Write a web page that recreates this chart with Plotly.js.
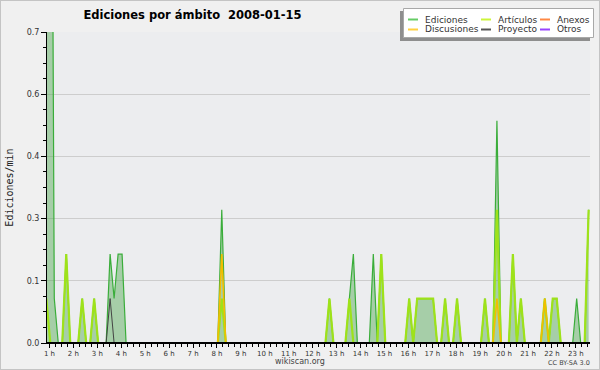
<!DOCTYPE html>
<html>
<head>
<meta charset="utf-8">
<script src="https://cdn.plot.ly/plotly-3.0.1.min.js"></script>
<style>
  html, body { margin: 0; padding: 0; background: #f0f0f0; }
  #wrap { position: relative; width: 600px; height: 370px; }
  #chart { width: 600px; height: 370px; }
  #frame { position: absolute; left: 0; top: 0; width: 600px; height: 370px; box-sizing: border-box; border: 1px solid #c4c4c4; pointer-events: none; }
</style>
</head>
<body>
<div id="wrap"><div id="chart"></div><div id="frame"></div></div>
<script>
// ---- data (10-minute samples, first sample at 00:52, x in hours) ----
const startHour = 52 / 60;
const stepHour = 1 / 6;

const seriesNames = ['Ediciones', 'Artículos', 'Anexos', 'Discusiones', 'Proyecto', 'Otros'];

const ediciones = [
  1.2, 2.0, 0.1, 0, 0, 0.2, 0, 0, 0, 0.1,
  0, 0, 0.1, 0, 0, 0, 0.2, 0.1, 0.2, 0.2,
  0, 0, 0, 0, 0, 0, 0, 0, 0, 0,
  0, 0, 0, 0, 0, 0, 0, 0, 0, 0,
  0, 0, 0, 0, 0.3, 0, 0, 0, 0, 0,
  0, 0, 0, 0, 0, 0, 0, 0, 0, 0,
  0, 0, 0, 0, 0, 0, 0, 0, 0, 0,
  0, 0.1, 0, 0, 0, 0, 0.1, 0.2, 0, 0,
  0, 0, 0.2, 0, 0.2, 0, 0, 0, 0, 0,
  0, 0.1, 0, 0.1, 0.1, 0.1, 0.1, 0.1, 0, 0,
  0.1, 0, 0, 0.1, 0, 0, 0, 0, 0, 0,
  0.1, 0, 0, 0.5, 0, 0, 0, 0.2, 0, 0.1,
  0, 0, 0, 0, 0, 0.1, 0, 0.1, 0.1, 0,
  0, 0, 0, 0.1, 0, 0, 0.3
];
const articulos = [
  0.1, 0, 0, 0, 0, 0.2, 0, 0, 0, 0.1,
  0, 0, 0.1, 0, 0, 0, 0, 0, 0, 0,
  0, 0, 0, 0, 0, 0, 0, 0, 0, 0,
  0, 0, 0, 0, 0, 0, 0, 0, 0, 0,
  0, 0, 0, 0, 0.1, 0, 0, 0, 0, 0,
  0, 0, 0, 0, 0, 0, 0, 0, 0, 0,
  0, 0, 0, 0, 0, 0, 0, 0, 0, 0,
  0, 0.1, 0, 0, 0, 0, 0.1, 0, 0, 0,
  0, 0, 0, 0, 0.2, 0, 0, 0, 0, 0,
  0, 0.1, 0, 0.1, 0.1, 0.1, 0.1, 0.1, 0, 0,
  0.1, 0, 0, 0.1, 0, 0, 0, 0, 0, 0,
  0.1, 0, 0, 0.3, 0, 0, 0, 0.2, 0, 0.1,
  0, 0, 0, 0, 0, 0.1, 0, 0.1, 0.1, 0,
  0, 0, 0, 0, 0, 0, 0.3
];
const anexos = [
  0, 0, 0, 0, 0, 0, 0, 0, 0, 0,
  0, 0, 0, 0, 0, 0, 0, 0, 0, 0,
  0, 0, 0, 0, 0, 0, 0, 0, 0, 0,
  0, 0, 0, 0, 0, 0, 0, 0, 0, 0,
  0, 0, 0, 0, 0, 0, 0, 0, 0, 0,
  0, 0, 0, 0, 0, 0, 0, 0, 0, 0,
  0, 0, 0, 0, 0, 0, 0, 0, 0, 0,
  0, 0, 0, 0, 0, 0, 0, 0, 0, 0,
  0, 0, 0, 0, 0, 0, 0, 0, 0, 0,
  0, 0, 0, 0, 0, 0, 0, 0, 0, 0,
  0, 0, 0, 0, 0, 0, 0, 0, 0, 0,
  0, 0, 0, 0, 0, 0, 0, 0, 0, 0,
  0, 0, 0, 0, 0, 0, 0, 0, 0, 0,
  0, 0, 0, 0, 0, 0, 0
];
const discusiones = [
  0, 0, 0, 0, 0, 0, 0, 0, 0, 0,
  0, 0, 0, 0, 0, 0, 0, 0, 0, 0,
  0, 0, 0, 0, 0, 0, 0, 0, 0, 0,
  0, 0, 0, 0, 0, 0, 0, 0, 0, 0,
  0, 0, 0, 0, 0.2, 0, 0, 0, 0, 0,
  0, 0, 0, 0, 0, 0, 0, 0, 0, 0,
  0, 0, 0, 0, 0, 0, 0, 0, 0, 0,
  0, 0, 0, 0, 0, 0, 0, 0, 0, 0,
  0, 0, 0, 0, 0, 0, 0, 0, 0, 0,
  0, 0, 0, 0, 0, 0, 0, 0, 0, 0,
  0, 0, 0, 0, 0, 0, 0, 0, 0, 0,
  0, 0, 0, 0.1, 0, 0, 0, 0, 0, 0,
  0, 0, 0, 0, 0, 0.1, 0, 0, 0, 0,
  0, 0, 0, 0, 0, 0, 0
];
const proyecto = [
  0, 0, 0, 0, 0, 0, 0, 0, 0, 0,
  0, 0, 0, 0, 0, 0, 0.1, 0, 0, 0,
  0, 0, 0, 0, 0, 0, 0, 0, 0, 0,
  0, 0, 0, 0, 0, 0, 0, 0, 0, 0,
  0, 0, 0, 0, 0, 0, 0, 0, 0, 0,
  0, 0, 0, 0, 0, 0, 0, 0, 0, 0,
  0, 0, 0, 0, 0, 0, 0, 0, 0, 0,
  0, 0, 0, 0, 0, 0, 0, 0, 0, 0,
  0, 0, 0, 0, 0, 0, 0, 0, 0, 0,
  0, 0, 0, 0, 0, 0, 0, 0, 0, 0,
  0, 0, 0, 0, 0, 0, 0, 0, 0, 0,
  0, 0, 0, 0, 0, 0, 0, 0, 0, 0,
  0, 0, 0, 0, 0, 0, 0, 0, 0, 0,
  0, 0, 0, 0, 0, 0, 0
];
const otros = [
  0, 0, 0, 0, 0, 0, 0, 0, 0, 0,
  0, 0, 0, 0, 0, 0, 0, 0, 0, 0,
  0, 0, 0, 0, 0, 0, 0, 0, 0, 0,
  0, 0, 0, 0, 0, 0, 0, 0, 0, 0,
  0, 0, 0, 0, 0, 0, 0, 0, 0, 0,
  0, 0, 0, 0, 0, 0, 0, 0, 0, 0,
  0, 0, 0, 0, 0, 0, 0, 0, 0, 0,
  0, 0, 0, 0, 0, 0, 0, 0, 0, 0,
  0, 0, 0, 0, 0, 0, 0, 0, 0, 0,
  0, 0, 0, 0, 0, 0, 0, 0, 0, 0,
  0, 0, 0, 0, 0, 0, 0, 0, 0, 0,
  0, 0, 0, 0, 0, 0, 0, 0, 0, 0,
  0, 0, 0, 0, 0, 0, 0, 0, 0, 0,
  0, 0, 0, 0, 0, 0, 0
];

const hourTicks = [1,2,3,4,5,6,7,8,9,10,11,12,13,14,15,16,17,18,19,20,21,22,23];
const hourLabels = ['1 h','2 h','3 h','4 h','5 h','6 h','7 h','8 h','9 h','10 h','11 h','12 h',
                    '13 h','14 h','15 h','16 h','17 h','18 h','19 h','20 h','21 h','22 h','23 h'];
const yTicks = [0, 0.14, 0.28, 0.42, 0.56, 0.70];
const yLabels = ['0.0', '0.1', '0.3', '0.4', '0.6', '0.7'];

// ---- styles ----
const lineColors = ['#3aad3a', '#9ee21a', '#ff7f3a', '#f2be00', '#444444', '#9933ff'];
const legendColors = ['#66cc66', '#ccf53a', '#ff8844', '#ffd040', '#555555', '#9944ff'];
const lineWidths = [1.2, 2.2, 1.6, 1.6, 1, 1.4];
const seriesData = [ediciones, articulos, anexos, discusiones, proyecto, otros];

const traces = seriesData.map((vals, i) => {
  const t = {
    type: 'scatter', mode: 'lines', name: seriesNames[i],
    x0: startHour, dx: stepHour, y: vals,
    line: { color: lineColors[i], width: lineWidths[i], shape: 'linear' },
    showlegend: false, hoverinfo: 'skip'
  };
  if (i === 0) { t.fill = 'tozeroy'; t.fillcolor = 'rgba(70,165,70,0.42)'; }
  return t;
});

// geometry helpers for the hand-built legend (pixel -> paper)
const L = 47, R = 10, T = 32, B = 27, W = 600, H = 370;
const pw = W - L - R, ph = H - T - B;
const px = v => (v - L) / pw;
const py = v => (H - B - v) / ph;

const shapes = [
  // cover zero-valued line segments with the axis baseline
  { type: 'line', xref: 'paper', yref: 'y', x0: 0, x1: 1, y0: 0, y1: 0,
    line: { color: '#000', width: 2 }, layer: 'above' },
  // legend shadow and box
  { type: 'rect', xref: 'paper', yref: 'paper', x0: px(400), x1: px(590), y0: py(11), y1: py(41),
    fillcolor: '#8e8e8e', line: { width: 0 }, layer: 'above' },
  { type: 'rect', xref: 'paper', yref: 'paper', x0: px(403.5), x1: px(593.5), y0: py(8.5), y1: py(37.5),
    fillcolor: '#ffffff', line: { color: '#a8a8a8', width: 1 }, layer: 'above' }
];
const annotations = [];
const colLine = [408, 481, 540];
const colText = [423, 496, 555];
const rowY = [19.5, 29.5];
const legendOrder = [0, 1, 2, 3, 4, 5]; // row-major: 3 columns
legendOrder.forEach((s, n) => {
  const c = n % 3, r = Math.floor(n / 3);
  shapes.push({ type: 'line', xref: 'paper', yref: 'paper',
    x0: px(colLine[c]), x1: px(colLine[c] + 10), y0: py(rowY[r]), y1: py(rowY[r]),
    line: { color: legendColors[s], width: 2 }, layer: 'above' });
  annotations.push({ xref: 'paper', yref: 'paper', x: px(colText[c]), y: py(rowY[r]),
    xanchor: 'left', yanchor: 'middle', showarrow: false, text: seriesNames[s],
    font: { family: 'DejaVu Sans', size: 9, color: '#333' } });
});
annotations.push({ xref: 'paper', yref: 'paper', x: px(300), y: py(361), xanchor: 'center', yanchor: 'middle',
  showarrow: false, text: 'wikiscan.org', font: { family: 'DejaVu Sans', size: 8, color: '#444' } });
annotations.push({ xref: 'paper', yref: 'paper', x: px(569), y: py(362.5), xanchor: 'center', yanchor: 'middle',
  showarrow: false, text: 'CC BY-SA 3.0', font: { family: 'DejaVu Sans', size: 6.5, color: '#444' } });

const layout = {
  width: W, height: H,
  margin: { l: L, r: R, t: T, b: B, pad: 0 },
  paper_bgcolor: '#f0f0f0', plot_bgcolor: '#ecedef',
  title: { text: 'Ediciones por ámbito\u00a0 2008-01-15', xref: 'container', yref: 'container',
           x: 192.5 / W, xanchor: 'center', y: 1 - 14.5 / H, yanchor: 'middle',
           font: { family: 'DejaVu Sans', size: 11.5, weight: 'bold', color: '#000' } },
  showlegend: false,
  xaxis: {
    range: [0.8955, 23.59], tickmode: 'array', tickvals: hourTicks, ticktext: hourLabels,
    showgrid: false, zeroline: false, showline: true, linecolor: '#000', linewidth: 1,
    ticks: 'outside', ticklen: 4, tickcolor: '#000', tickwidth: 1,
    tickfont: { family: 'DejaVu Sans', size: 7, color: '#333' },
    minor: { dtick: 0.25, tick0: 0, ticks: 'outside', ticklen: 3, tickcolor: '#000', showgrid: false },
    fixedrange: true
  },
  yaxis: {
    range: [0, 0.7], tickmode: 'array', tickvals: yTicks, ticktext: yLabels,
    showgrid: true, gridcolor: '#cdcdcd', gridwidth: 1, zeroline: false,
    showline: true, linecolor: '#000', linewidth: 1,
    ticks: 'outside', ticklen: 5, tickcolor: '#000',
    tickfont: { family: 'DejaVu Sans', size: 8, color: '#333' },
    minor: { dtick: 0.035, tick0: 0, ticks: 'outside', ticklen: 3, tickcolor: '#000', showgrid: false },
    title: { text: 'Ediciones/min', standoff: 11, font: { family: 'DejaVu Sans Mono', size: 10, color: '#222' } },
    fixedrange: true
  },
  shapes: shapes,
  annotations: annotations
};

Plotly.newPlot('chart', traces, layout, { displayModeBar: false, staticPlot: true });
</script>
</body>
</html>
